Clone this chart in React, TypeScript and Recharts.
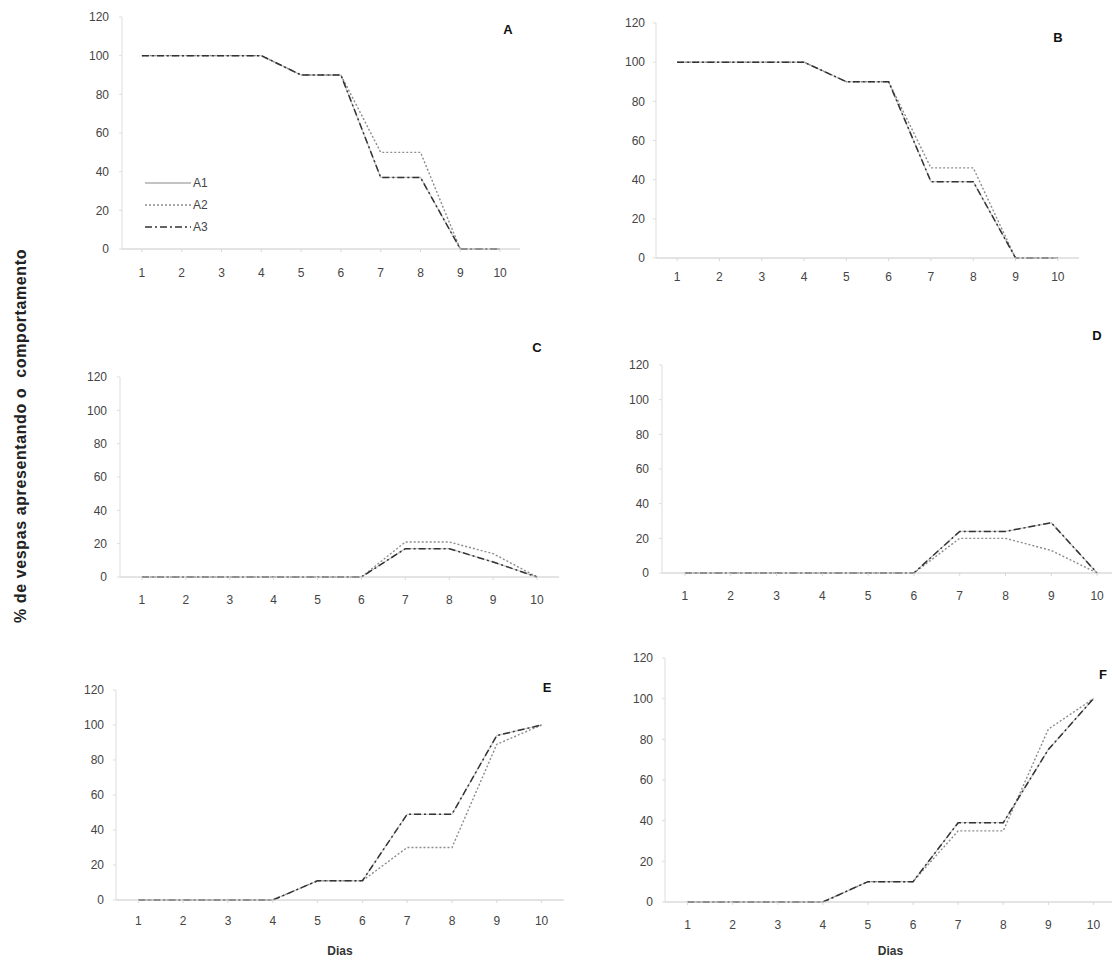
import { LineChart, Line, XAxis, YAxis, Legend } from "recharts";

const DAYS = [1, 2, 3, 4, 5, 6, 7, 8, 9, 10];
const Y_TICKS = [0, 20, 40, 60, 80, 100, 120];

// panel A
const A_A1 = [100, 100, 100, 100, 90, 90, 37, 37, 0, 0];
const A_A2 = [100, 100, 100, 100, 90, 90, 50, 50, 0, 0];
const A_A3 = [100, 100, 100, 100, 90, 90, 37, 37, 0, 0];
// panel B
const B_A1 = [100, 100, 100, 100, 90, 90, 39, 39, 0, 0];
const B_A2 = [100, 100, 100, 100, 90, 90, 46, 46, 0, 0];
const B_A3 = [100, 100, 100, 100, 90, 90, 39, 39, 0, 0];
// panel C
const C_A1 = [0, 0, 0, 0, 0, 0, 17, 17, 9, 0];
const C_A2 = [0, 0, 0, 0, 0, 0, 21, 21, 14, 0];
const C_A3 = [0, 0, 0, 0, 0, 0, 17, 17, 9, 0];
// panel D
const D_A1 = [0, 0, 0, 0, 0, 0, 24, 24, 29, 0];
const D_A2 = [0, 0, 0, 0, 0, 0, 20, 20, 13, 0];
const D_A3 = [0, 0, 0, 0, 0, 0, 24, 24, 29, 0];
// panel E
const E_A1 = [0, 0, 0, 0, 11, 11, 49, 49, 94, 100];
const E_A2 = [0, 0, 0, 0, 11, 11, 30, 30, 89, 100];
const E_A3 = [0, 0, 0, 0, 11, 11, 49, 49, 94, 100];
// panel F
const F_A1 = [0, 0, 0, 0, 10, 10, 39, 39, 75, 100];
const F_A2 = [0, 0, 0, 0, 10, 10, 35, 35, 85, 100];
const F_A3 = [0, 0, 0, 0, 10, 10, 39, 39, 75, 100];

const SERIES = [
  { key: "A1", stroke: "#c6c6c6", legendStroke: "#888", dash: undefined as string | undefined, width: 1.2 },
  { key: "A2", stroke: "#8c8c8c", legendStroke: "#8c8c8c", dash: "2 2", width: 1.4 },
  { key: "A3", stroke: "#333333", legendStroke: "#333333", dash: "7 3 2 3", width: 1.5 },
];

function rows(a1: number[], a2: number[], a3: number[]) {
  return DAYS.map((d, i) => ({ day: d, A1: a1[i], A2: a2[i], A3: a3[i] }));
}

const FONT = "'Liberation Sans', Arial, sans-serif";

function LegendBox({ payload }: any) {
  const items = (payload ?? []) as Array<{ value: string }>;
  return (
    <div>
      {items.map((p) => {
        const s = SERIES.find((x) => x.key === p.value)!;
        return (
          <div key={p.value} style={{ display: "flex", alignItems: "center", height: 22 }}>
            <svg width={46} height={6}>
              <line x1={0} y1={3} x2={46} y2={3} stroke={s.legendStroke} strokeWidth={s.width} strokeDasharray={s.dash} />
            </svg>
            <span style={{ fontSize: 12, color: "#444", marginLeft: 2 }}>{p.value}</span>
          </div>
        );
      })}
    </div>
  );
}

type PanelProps = {
  letter: string;
  data: Array<Record<string, number>>;
  left: number;
  right: number;
  top: number;
  bottom: number;
  letterX: number;
  letterY: number;
  xGap: number;
  yGap: number;
  legend?: boolean;
  dias?: boolean;
};

function Panel({ letter, data, left, right, top, bottom, letterX, letterY, xGap, yGap, legend, dias }: PanelProps) {
  const YW = 45, MT = 10, MR = 4, XH = 40;
  const plotW = right - left;
  const band = plotW / 10;
  const w = YW + plotW + MR;
  const h = MT + (bottom - top) + XH;
  return (
    <>
      <div style={{ position: "absolute", left: left - YW, top: top - MT }}>
        <LineChart width={w} height={h} data={data} margin={{ top: MT, right: MR, left: 0, bottom: 0 }}>
          <XAxis
            dataKey="day"
            height={XH}
            interval={0}
            padding={{ left: band / 2, right: band / 2 }}
            tick={{ fill: "#444", fontSize: 12 }}
            tickSize={3}
            tickMargin={xGap}
            axisLine={{ stroke: "#c8c8c8" }}
            tickLine={{ stroke: "#d8d8d8" }}
          />
          <YAxis
            width={YW}
            domain={[0, 120]}
            ticks={Y_TICKS}
            interval={0}
            tick={{ fill: "#444", fontSize: 12 }}
            tickSize={3}
            tickMargin={yGap}
            axisLine={{ stroke: "#dddddd" }}
            tickLine={{ stroke: "#dddddd" }}
          />
          {SERIES.map((s) => (
            <Line
              key={s.key}
              dataKey={s.key}
              name={s.key}
              type="linear"
              stroke={s.stroke}
              strokeWidth={s.width}
              strokeDasharray={s.dash}
              dot={false}
              activeDot={false}
              isAnimationActive={false}
            />
          ))}
          {legend && (
            <Legend
              layout="vertical"
              align="center"
              verticalAlign="middle"
              wrapperStyle={{ left: 68, top: 165, width: 80 }}
              content={LegendBox}
            />
          )}
        </LineChart>
      </div>
      <div
        style={{
          position: "absolute",
          left: letterX - 10,
          top: letterY - 8,
          width: 20,
          textAlign: "center",
          fontWeight: 700,
          fontSize: 13,
          color: "#111",
        }}
      >
        {letter}
      </div>
      {dias && (
        <div
          style={{
            position: "absolute",
            left: (left + right) / 2 - 40,
            top: 944,
            width: 80,
            textAlign: "center",
            fontWeight: 700,
            fontSize: 12,
            color: "#333",
          }}
        >
          Dias
        </div>
      )}
    </>
  );
}

export default function App() {
  return (
    <div
      style={{
        position: "absolute",
        left: 0,
        top: 0,
        width: 1112,
        height: 960,
        overflow: "hidden",
        background: "#fff",
        fontFamily: FONT,
      }}
    >
      <Panel letter="A" data={rows(A_A1, A_A2, A_A3)} left={122} right={520} top={17} bottom={249} letterX={508} letterY={30} xGap={16} yGap={10} legend />
      <Panel letter="B" data={rows(B_A1, B_A2, B_A3)} left={656} right={1079} top={23} bottom={258} letterX={1058} letterY={38} xGap={11} yGap={8} />
      <Panel letter="C" data={rows(C_A1, C_A2, C_A3)} left={120} right={559} top={377} bottom={577} letterX={537} letterY={348} xGap={15} yGap={10} />
      <Panel letter="D" data={rows(D_A1, D_A2, D_A3)} left={662} right={1120} top={365} bottom={573} letterX={1097} letterY={336} xGap={15} yGap={10} />
      <Panel letter="E" data={rows(E_A1, E_A2, E_A3)} left={116} right={564} top={690} bottom={900} letterX={547} letterY={688} xGap={13} yGap={9} dias />
      <Panel letter="F" data={rows(F_A1, F_A2, F_A3)} left={665} right={1116} top={658} bottom={902} letterX={1103} letterY={675} xGap={15} yGap={9} dias />
      <div
        style={{
          position: "absolute",
          left: 21 - 240,
          top: 436 - 11,
          width: 480,
          height: 22,
          lineHeight: "22px",
          textAlign: "center",
          transform: "rotate(-90deg)",
          fontWeight: 700,
          fontSize: 16,
          letterSpacing: 0.6,
          color: "#222",
          whiteSpace: "pre",
        }}
      >
        % de vespas apresentando o  comportamento
      </div>
    </div>
  );
}
